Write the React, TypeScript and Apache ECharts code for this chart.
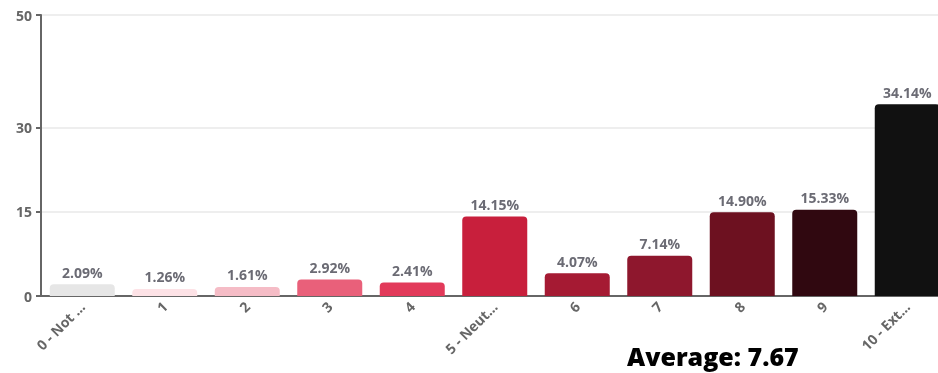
import React, { useEffect, useRef } from "react";
import * as echarts from "echarts";

const categories = [
  "0 - Not at all likely",
  "1",
  "2",
  "3",
  "4",
  "5 - Neutral",
  "6",
  "7",
  "8",
  "9",
  "10 - Extremely likely",
];
const values = [2.09, 1.26, 1.61, 2.92, 2.41, 14.15, 4.07, 7.14, 14.9, 15.33, 34.14];
const barColors = [
  "#e6e6e6",
  "#fde2e6",
  "#f5bcc6",
  "#e9607a",
  "#e23a5a",
  "#c81f3c",
  "#a51a33",
  "#8e172d",
  "#6d1120",
  "#300810",
  "#111111",
];
const yTicks = [0, 15, 30, 50];
const averageText = "Average: 7.67";

export default function App() {
  const ref = useRef<HTMLDivElement>(null);
  useEffect(() => {
    if (!ref.current) return;
    const chart = echarts.init(ref.current, null, { renderer: "svg" });
    chart.setOption({
      animation: false,
      grid: { left: 33, top: 7, width: 907.5, height: 281, containLabel: false },
      xAxis: {
        type: "category",
        data: categories,
        axisLine: { lineStyle: { color: "#666", width: 2 } },
        axisTick: { alignWithLabel: true, length: 6, lineStyle: { color: "#666", width: 2 } },
        axisLabel: {
          rotate: 45,
          margin: 8,
          color: "#666",
          fontWeight: "bold",
          fontSize: 14,
          fontFamily: "Open Sans, sans-serif",
          interval: 0,
          formatter: (n: string) => (n.length > 8 ? n.slice(0, 8) + "..." : n),
        },
      },
      yAxis: {
        type: "value",
        min: 0,
        max: 50,
        axisLine: { show: true, lineStyle: { color: "#666", width: 2 } },
        axisTick: { show: true, length: 5, customValues: yTicks, lineStyle: { color: "#666", width: 2 } },
        axisLabel: {
          customValues: yTicks,
          margin: 9,
          color: "#666",
          fontWeight: "bold",
          fontSize: 14,
          fontFamily: "Open Sans, sans-serif",
        },
        splitLine: { show: true, lineStyle: { color: "#eeeeee", width: 2 } },
      },
      series: [
        {
          type: "bar",
          barWidth: 65,
          data: values.map((v, i) => ({ value: v, itemStyle: { color: barColors[i] } })),
          itemStyle: { borderRadius: [4, 4, 0, 0] },
          label: {
            show: true,
            position: "top",
            distance: 5,
            color: "#6b6b74",
            fontWeight: "bold",
            fontSize: 14,
            fontFamily: "Open Sans, sans-serif",
            formatter: (p: any) => p.value.toFixed(2) + "%",
          },
        },
      ],
      graphic: [
        {
          type: "text",
          left: 619,
          top: 335,
          style: {
            text: averageText,
            fill: "#000",
            font: "800 25px 'Open Sans', sans-serif",
          },
        },
      ],
    });
    return () => chart.dispose();
  }, []);
  return (
    <div
      style={{
        position: "fixed",
        left: 8,
        top: 8,
        width: 930,
        height: 365,
        overflow: "hidden",
      }}
    >
      <div ref={ref} style={{ width: 960, height: 365 }} />
    </div>
  );
}
